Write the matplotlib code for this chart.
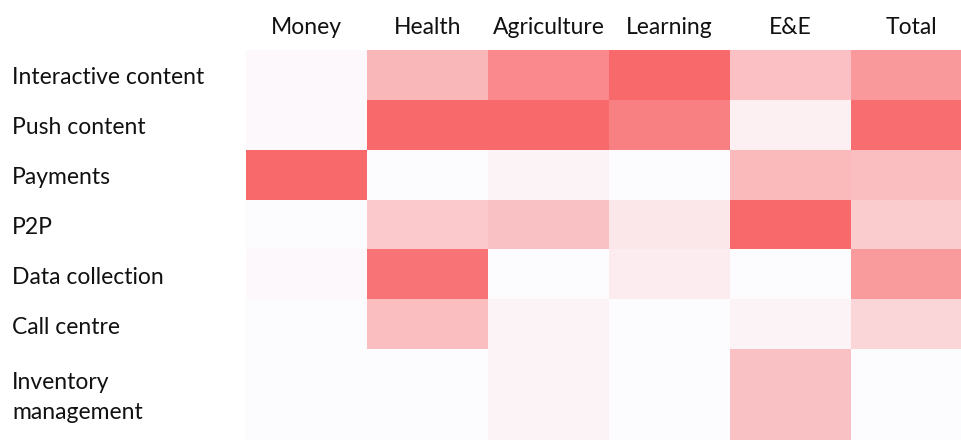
import numpy as np
import matplotlib
matplotlib.use("Agg")
import matplotlib.pyplot as plt
from matplotlib.colors import LinearSegmentedColormap
from matplotlib.transforms import blended_transform_factory

# data: intensity per cell (0-100)
columns = ["Money", "Health", "Agriculture", "Learning", "E&E", "Total"]
rows = ["Interactive content", "Push content", "Payments", "P2P",
        "Data collection", "Call centre", "Inventory\nmanagement"]
interactive = [3, 47, 78, 100, 41, 67]
push = [3, 100, 100, 84, 8, 97]
payments = [100, 1, 6, 1, 45, 42]
p2p = [1, 35, 40, 15, 100, 33]
data_collection = [3, 93, 1, 11, 1, 66]
call_centre = [1, 42, 6, 0, 6, 26]
inventory = [0, 0, 6, 0, 40, 0]

values = np.array([interactive, push, payments, p2p,
                   data_collection, call_centre, inventory])

# row edges: last row is taller (two-line label)
row_edges = [0, 1, 2, 3, 4, 5, 6, 7.82]
col_edges = np.arange(len(columns) + 1)

cmap = LinearSegmentedColormap.from_list("excel", ["#FCFCFF", "#F8696B"])

plt.rcParams['font.family'] = ['Lato', 'DejaVu Sans']

fig = plt.figure(figsize=(9.62, 4.4), dpi=100)
ax = fig.add_axes([246 / 962, 0, 1 - 246 / 962, 1 - 50 / 440])
ax.pcolormesh(col_edges, row_edges, values, cmap=cmap, vmin=0, vmax=100,
              edgecolors='none')
ax.set_xlim(0, (962 - 246) / 121)
ax.set_ylim(row_edges[-1], 0)
ax.axis('off')

for i, name in enumerate(columns):
    ax.text(i + 0.5, -0.46, name, ha='center', va='center', fontsize=16.5,
            color='#111111', clip_on=False)

trans = blended_transform_factory(fig.transFigure, ax.transData)
for j, name in enumerate(rows):
    yc = (row_edges[j] + row_edges[j + 1]) / 2 + 0.06
    ax.text(12 / 962, yc, name, ha='left', va='center', fontsize=16.5,
            color='#111111', transform=trans, linespacing=1.5, clip_on=False)

fig.savefig("out.png", dpi=100)
